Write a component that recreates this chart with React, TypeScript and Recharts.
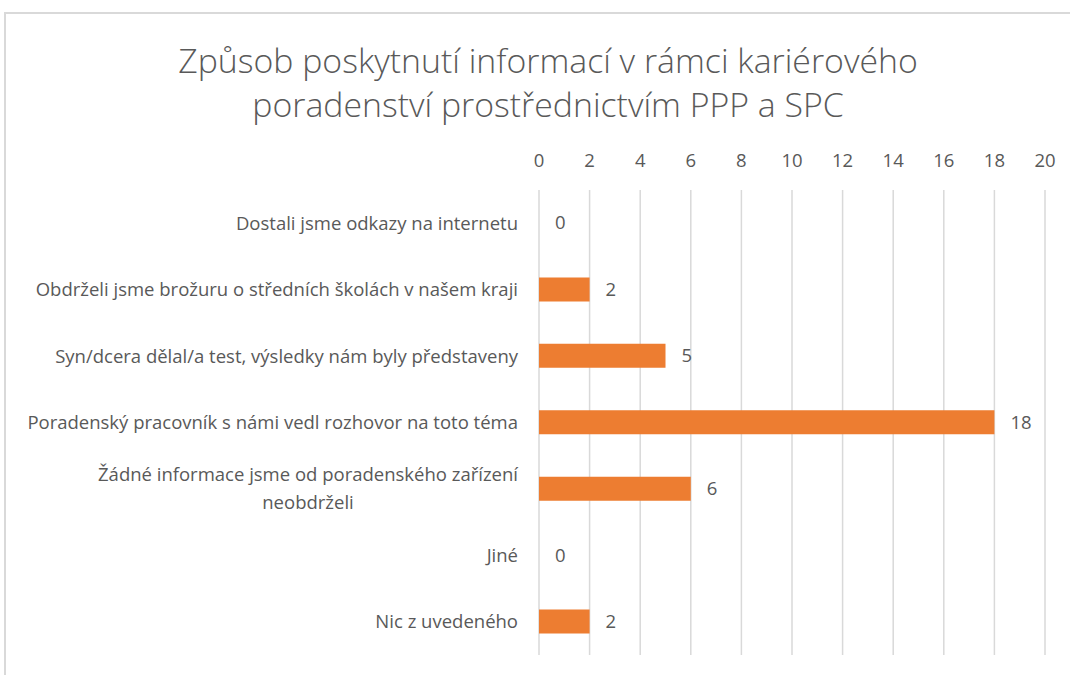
import React from 'react';
import { BarChart, Bar, XAxis, YAxis, CartesianGrid, LabelList } from 'recharts';

const categories = [
  'Dostali jsme odkazy na internetu',
  'Obdrželi jsme brožuru o středních školách v našem kraji',
  'Syn/dcera dělal/a test, výsledky nám byly představeny',
  'Poradenský pracovník s námi vedl rozhovor na toto téma',
  'Žádné informace jsme od poradenského zařízení\nneobdrželi',
  'Jiné',
  'Nic z uvedeného',
];
const counts = [0, 2, 5, 18, 6, 0, 2];
const xTicks = [0, 2, 4, 6, 8, 10, 12, 14, 16, 18, 20];

const data = categories.map((name, i) => ({ name, value: counts[i] }));

const FONT = '"Open Sans", sans-serif';
const TEXT = '#595959';

let canvas: HTMLCanvasElement | null = null;
const measure = (s: string, size: number) => {
  if (!canvas) canvas = document.createElement('canvas');
  const ctx = canvas.getContext('2d')!;
  ctx.font = `${size}px ${FONT}`;
  return ctx.measureText(s).width;
};

// y-axis labels, wrapped ones are centred under each other like in Excel
const CategoryTick = (props: any) => {
  const { x, y, payload } = props;
  const lines: string[] = String(payload.value).split('\n');
  const size = 18.5;
  if (lines.length === 1) {
    return (
      <text x={x} y={y} dy="0.35em" textAnchor="end" fill={TEXT} fontSize={size} fontFamily={FONT}>
        {lines[0]}
      </text>
    );
  }
  const maxW = Math.max(...lines.map((l) => measure(l, size)));
  const cx = x - maxW / 2;
  const lh = 28;
  const start = y - ((lines.length - 1) * lh) / 2;
  return (
    <text textAnchor="middle" fill={TEXT} fontSize={size} fontFamily={FONT}>
      {lines.map((l, i) => (
        <tspan key={i} x={cx} y={start + i * lh} dy="0.35em">
          {l}
        </tspan>
      ))}
    </text>
  );
};

const ValueLabel = (props: any) => {
  const { x, y, width, height, value } = props;
  return (
    <text
      x={x + width + 16}
      y={y + height / 2}
      dy="0.35em"
      fill={TEXT}
      fontSize={18.5}
      fontFamily={FONT}
    >
      {value}
    </text>
  );
};

export default function App() {
  return (
    <div style={{ position: 'absolute', left: 0, top: 0, width: 1070, height: 675, background: '#fff', overflow: 'hidden', fontFamily: FONT }}>
      <div
        style={{
          position: 'absolute',
          left: 4,
          top: 12,
          width: 1100,
          height: 700,
          border: '2px solid #d9d9d9',
          boxSizing: 'border-box',
        }}
      />
      <div
        style={{
          position: 'absolute',
          left: 0,
          top: 38,
          width: 1096,
          textAlign: 'center',
          color: TEXT,
          fontSize: 33.8,
          fontWeight: 300,
          lineHeight: '44px',
        }}
      >
        Způsob poskytnutí informací v rámci kariérového
        <br />
        poradenství prostřednictvím PPP a SPC
      </div>
      <div style={{ position: 'absolute', left: 0, top: 0 }}>
        <BarChart
          width={1070}
          height={675}
          data={data}
          layout="vertical"
          margin={{ top: 160, right: 25, bottom: 20, left: 0 }}
        >
          <CartesianGrid horizontal={false} stroke="#d9d9d9" strokeWidth={1.5} />
          <XAxis
            type="number"
            orientation="top"
            domain={[0, 20]}
            ticks={xTicks}
            interval={0}
            axisLine={false}
            tickLine={false}
            tickMargin={17}
            tick={{ fontSize: 18.5, fill: TEXT, fontFamily: FONT }}
          />
          <YAxis
            type="category"
            dataKey="name"
            width={539}
            axisLine={false}
            tickLine={false}
            tickMargin={15}
            interval={0}
            tick={<CategoryTick />}
          />
          <Bar
            dataKey="value"
            fill="#ED7D31"
            barSize={24}
            minPointSize={0.001}
            isAnimationActive={false}
          >
            <LabelList dataKey="value" content={<ValueLabel />} />
          </Bar>
        </BarChart>
      </div>
    </div>
  );
}
